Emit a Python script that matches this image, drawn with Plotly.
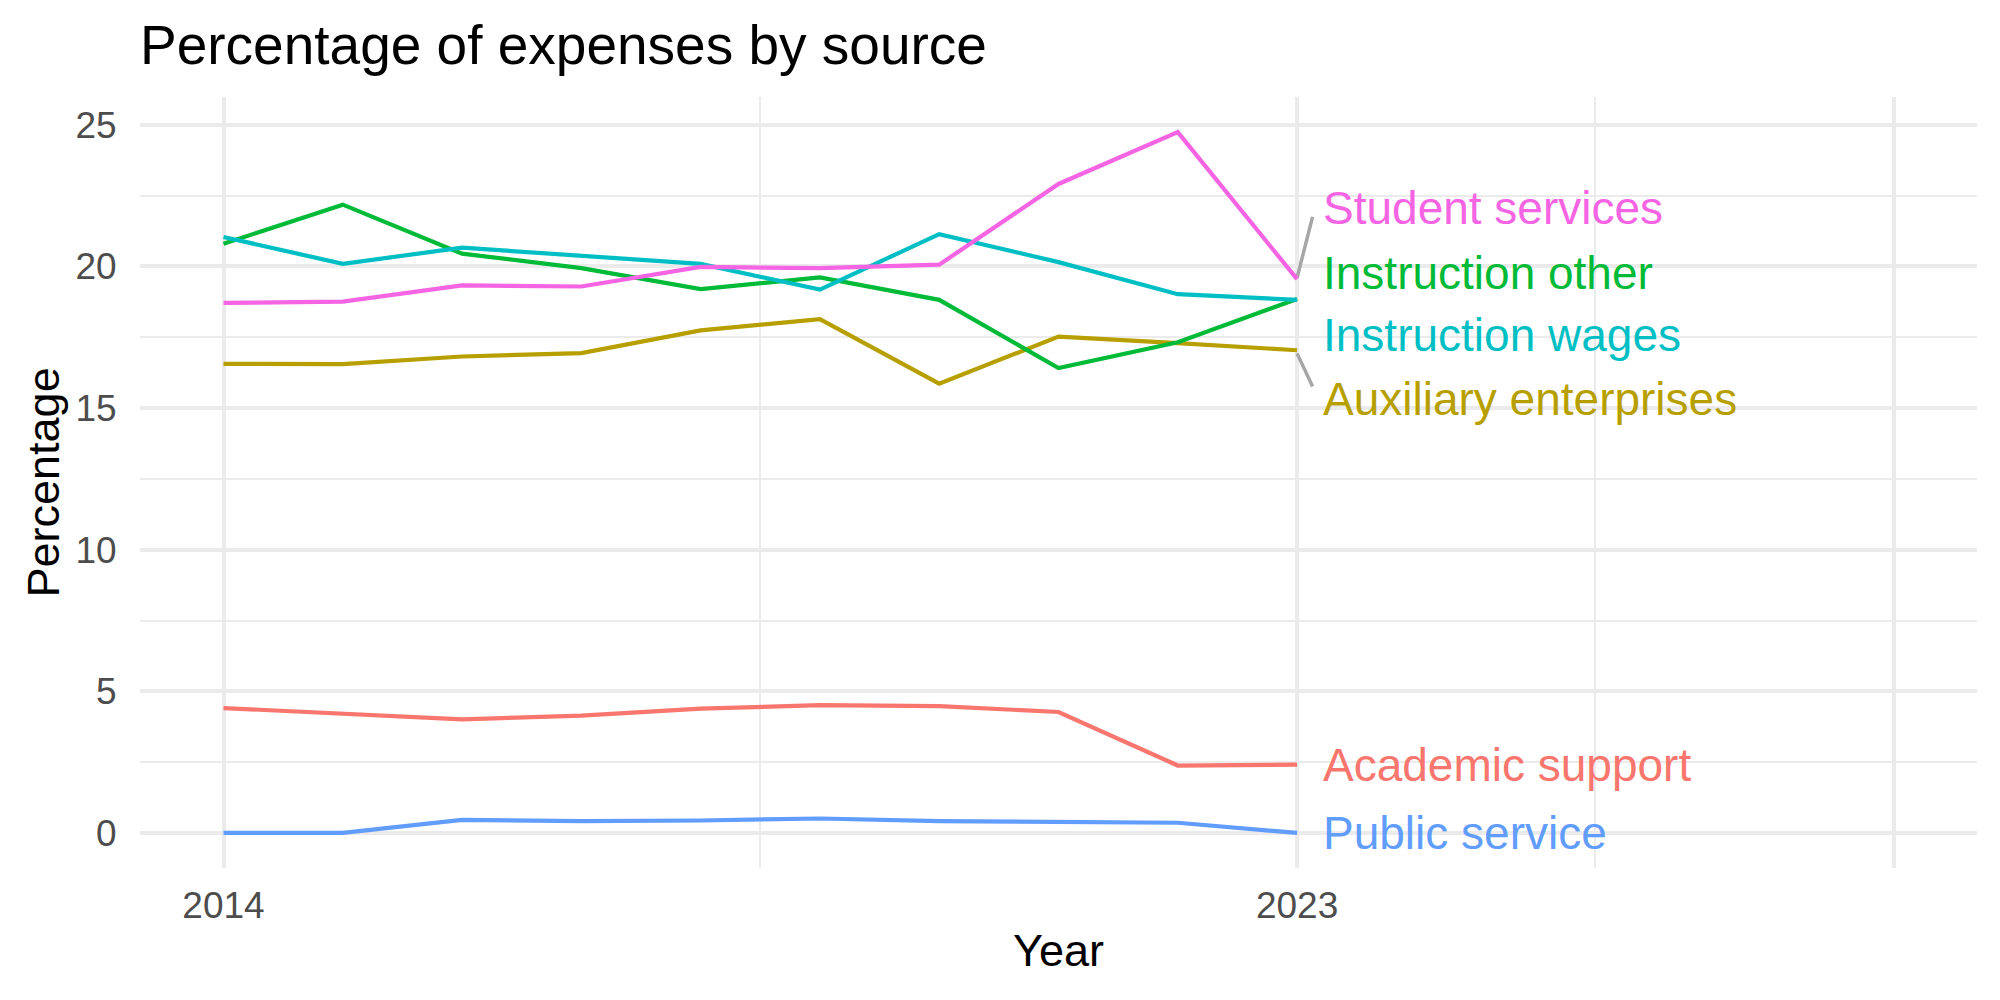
import plotly.graph_objects as go

years = list(range(2014, 2024))
series_names = ["Academic support", "Auxiliary enterprises", "Instruction other",
                "Instruction wages", "Public service", "Student services"]
academic_support = [4.41, 4.22, 4.01, 4.14, 4.39, 4.51, 4.48, 4.27, 2.38, 2.41]
auxiliary_enterprises = [16.56, 16.55, 16.82, 16.94, 17.74, 18.14, 15.86, 17.52, 17.29, 17.04]
instruction_other = [20.80, 22.18, 20.45, 19.94, 19.20, 19.61, 18.82, 16.41, 17.32, 18.85]
instruction_wages = [21.04, 20.09, 20.66, 20.39, 20.09, 19.18, 21.14, 20.15, 19.02, 18.82]
public_service = [0.0, 0.0, 0.46, 0.42, 0.44, 0.51, 0.42, 0.38, 0.36, 0.0]
student_services = [18.71, 18.76, 19.33, 19.29, 19.98, 19.94, 20.06, 22.91, 24.74, 19.55]

x_tick_vals = [2014, 2023, 2028]
x_tick_text = ["2014", "2023", ""]
x_minor_vals = [2018.5, 2025.5]
y_tick_vals = [0, 5, 10, 15, 20, 25]

# label placement (repelled text positions)
label_x = 2023.2
label_y = [2.41, 15.33, 19.77, 17.59, 0.0, 22.07]

colors = ["#F8766D", "#B79F00", "#00BA38", "#00BFC4", "#619CFF", "#F564E3"]
values = [academic_support, auxiliary_enterprises, instruction_other,
          instruction_wages, public_service, student_services]

FONT = "Liberation Sans, Arial, sans-serif"

fig = go.Figure()

# leader segments (drawn under lines)
seg_color = "#A6A6A6"
fig.add_trace(go.Scatter(x=[2023.0, 2023.13], y=[19.6, 21.75], mode="lines",
                         line=dict(color=seg_color, width=3.5), hoverinfo="skip"))
fig.add_trace(go.Scatter(x=[2023.0, 2023.13], y=[16.93, 15.76], mode="lines",
                         line=dict(color=seg_color, width=3.5), hoverinfo="skip"))

for name, vals, col in zip(series_names, values, colors):
    fig.add_trace(go.Scatter(x=years, y=vals, mode="lines", name=name,
                             line=dict(color=col, width=4.2)))

annotations = []
for name, ly, col in zip(series_names, label_y, colors):
    annotations.append(dict(x=label_x, y=ly, xref="x", yref="y", text=name,
                            showarrow=False, xanchor="left", yanchor="middle",
                            font=dict(family=FONT, size=46, color=col)))

annotations.append(dict(x=0.5, y=0, xref="paper", yref="paper", text="Year",
                        showarrow=False, xanchor="center", yanchor="middle",
                        yshift=-82, font=dict(family=FONT, size=45, color="black")))
annotations.append(dict(x=0, y=0.5, xref="paper", yref="paper", text="Percentage",
                        showarrow=False, xanchor="center", yanchor="middle",
                        xshift=-97, textangle=-90,
                        font=dict(family=FONT, size=45, color="black")))

fig.update_layout(
    width=2000, height=1000, autosize=False,
    margin=dict(l=140, r=23, t=97, b=132),
    paper_bgcolor="white", plot_bgcolor="white",
    showlegend=False,
    title=dict(text="Percentage of expenses by source", x=140 / 2000, xref="container",
               xanchor="left", y=1 - 45 / 1000, yref="container", yanchor="middle",
               font=dict(family=FONT, size=55, color="black")),
    annotations=annotations,
    xaxis=dict(range=[2013.3, 2028.7], tickvals=x_tick_vals, ticktext=x_tick_text,
               showgrid=True, gridcolor="#EBEBEB", gridwidth=4, zeroline=False,
               showline=False, ticks="outside", ticklen=5, tickcolor="rgba(0,0,0,0)",
               tickfont=dict(family=FONT, size=37, color="#4D4D4D"),
               minor=dict(tickvals=x_minor_vals, showgrid=True, gridcolor="#EBEBEB",
                          gridwidth=2.2)),
    yaxis=dict(range=[-1.237, 25.98], tickvals=y_tick_vals,
               showgrid=True, gridcolor="#EBEBEB", gridwidth=4, zeroline=False,
               showline=False, ticks="outside", ticklen=15, tickcolor="rgba(0,0,0,0)",
               tickfont=dict(family=FONT, size=37, color="#4D4D4D"),
               minor=dict(dtick=2.5, tick0=0, showgrid=True, gridcolor="#EBEBEB",
                          gridwidth=2.2)),
)

fig.write_html("out.html")
